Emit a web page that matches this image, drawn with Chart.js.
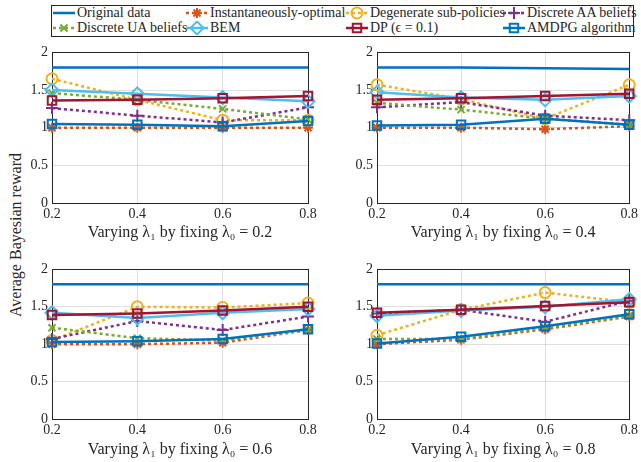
<!DOCTYPE html>
<html>
<head>
<meta charset="utf-8">
<script src="https://cdn.jsdelivr.net/npm/chart.js@4/dist/chart.umd.min.js"></script>
<style>
  body { margin: 0; width: 641px; height: 462px; background: #fff; position: relative; overflow: hidden;
         font-family: 'Liberation Serif', serif; color: #262626; }
  canvas.panel { position: absolute; }
  #legend { position: absolute; left: 51px; top: 5px; width: 583px; height: 32px;
            border: 1px solid #262626; box-sizing: border-box; background: #fff; }
  .item { position: absolute; height: 14px; display: flex; align-items: center; font-size: 14px; white-space: nowrap; }
  .item canvas { margin-right: 2px; }
  #ylabel { position: absolute; left: 16px; top: 235px; transform: translate(-50%, -50%) rotate(-90deg);
            font-size: 16px; white-space: nowrap; }
</style>
</head>
<body>
<div id="legend"></div>
<div id="ylabel">Average Bayesian reward</div>
<canvas class="panel" id="c0" width="320" height="210" style="left:0;top:40px"></canvas>
<canvas class="panel" id="c1" width="316" height="210" style="left:325px;top:40px"></canvas>
<canvas class="panel" id="c2" width="320" height="205" style="left:0;top:257px"></canvas>
<canvas class="panel" id="c3" width="316" height="205" style="left:325px;top:257px"></canvas>
<script>
// ── Data ─────────────────────────────────────────────────────────────

const LAMBDA1 = ['0.2', '0.4', '0.6', '0.8'];
const LAMBDA0 = ['0.2', '0.4', '0.6', '0.8'];
const Y_TICKS = [0, 0.5, 1, 1.5, 2];
const NAMES = ['Original data', 'Instantaneously-optimal', 'Degenerate sub-policies', 'Discrete AA beliefs',
               'Discrete UA beliefs', 'BEM', 'DP (\u03f5 = 0.1)', 'AMDPG algorithm'];

// one row per panel (λ0 = 0.2, 0.4, 0.6, 0.8), one value per λ1
const ORIGINAL = [
  [1.80, 1.80, 1.80, 1.80],
  [1.80, 1.80, 1.79, 1.78],
  [1.80, 1.80, 1.80, 1.80],
  [1.80, 1.80, 1.80, 1.80],
];
const INST_OPT = [
  [1.00, 1.00, 1.00, 1.00],
  [1.00, 1.00, 0.98, 1.02],
  [1.00, 1.00, 1.02, 1.19],
  [1.00, 1.06, 1.20, 1.37],
];
const DEGENERATE = [
  [1.65, 1.37, 1.10, 1.10],
  [1.57, 1.38, 1.12, 1.57],
  [1.05, 1.50, 1.49, 1.55],
  [1.12, 1.46, 1.69, 1.56],
];
const AA_BELIEFS = [
  [1.26, 1.16, 1.07, 1.27],
  [1.27, 1.34, 1.16, 1.10],
  [1.07, 1.31, 1.19, 1.37],
  [1.41, 1.46, 1.30, 1.58],
];
const UA_BELIEFS = [
  [1.46, 1.37, 1.25, 1.11],
  [1.33, 1.24, 1.12, 1.04],
  [1.22, 1.08, 1.05, 1.19],
  [1.07, 1.07, 1.22, 1.38],
];
const BEM = [
  [1.50, 1.45, 1.40, 1.35],
  [1.47, 1.40, 1.37, 1.42],
  [1.42, 1.35, 1.42, 1.47],
  [1.38, 1.45, 1.50, 1.60],
];
const DP = [
  [1.36, 1.37, 1.39, 1.42],
  [1.37, 1.39, 1.42, 1.45],
  [1.39, 1.41, 1.45, 1.50],
  [1.42, 1.46, 1.51, 1.56],
];
const AMDPG = [
  [1.05, 1.04, 1.02, 1.09],
  [1.03, 1.04, 1.12, 1.04],
  [1.03, 1.04, 1.07, 1.20],
  [1.01, 1.10, 1.24, 1.40],
];

const SERIES = [ORIGINAL, INST_OPT, DEGENERATE, AA_BELIEFS, UA_BELIEFS, BEM, DP, AMDPG];

// ── Styles ───────────────────────────────────────────────────────────

const DOT = [3, 3];
const STYLES = [
  { color: '#0072BD', dash: [],  style: false,      radius: 0   },
  { color: '#D95319', dash: DOT, style: 'star',     radius: 5   },
  { color: '#EDB120', dash: DOT, style: 'circle',   radius: 5.5 },
  { color: '#7E2F8E', dash: DOT, style: 'cross',    radius: 6   },
  { color: '#77AC30', dash: DOT, style: 'crossRot', radius: 5   },
  { color: '#4DBEEE', dash: [],  style: 'rectRot',  radius: 6.5 },
  { color: '#A2142F', dash: [],  style: 'rect',     radius: 6   },
  { color: '#0072BD', dash: [],  style: 'rect',     radius: 6   },
];

const AXIS_COLOR = '#262626';
const GRID_COLOR = 'rgba(38,38,38,0.15)';
const NONE = 'rgba(0,0,0,0)';
const FONT = "'Liberation Serif', serif";

// box round the plot area, under the data like MATLAB
const boxPlugin = {
  id: 'box',
  beforeDatasetsDraw(chart) {
    const a = chart.chartArea, ctx = chart.ctx;
    ctx.save();
    ctx.strokeStyle = AXIS_COLOR;
    ctx.lineWidth = 1;
    ctx.strokeRect(Math.round(a.left) + 0.5, Math.round(a.top) + 0.5,
                   Math.round(a.right - a.left), Math.round(a.bottom - a.top));
    ctx.restore();
  }
};

// ── Panels ───────────────────────────────────────────────────────────

function makePanel(p) {
  const top = p < 2;
  const canvas = document.getElementById('c' + p);
  new Chart(canvas, {
    type: 'line',
    data: {
      labels: LAMBDA1,
      datasets: SERIES.map((vals, i) => ({
        label: NAMES[i],
        data: vals[p],
        borderColor: STYLES[i].color,
        backgroundColor: NONE,
        borderWidth: 2.5,
        borderDash: STYLES[i].dash,
        pointStyle: STYLES[i].style,
        pointRadius: STYLES[i].radius,
        pointBorderWidth: 2,
        pointBorderColor: STYLES[i].color,
        pointBackgroundColor: NONE,
        tension: 0,
        clip: false,
        order: SERIES.length - i,
      }))
    },
    options: {
      responsive: false,
      animation: false,
      devicePixelRatio: 1,
      layout: { padding: { top: 12, right: p % 2 === 0 ? 12 : 8, left: 0, bottom: 0 } },
      plugins: { legend: { display: false }, tooltip: { enabled: false } },
      scales: {
        x: {
          offset: false,
          grid: { color: GRID_COLOR, drawTicks: false },
          border: { display: false },
          ticks: { padding: 3, color: AXIS_COLOR, maxRotation: 0, font: { family: FONT, size: 14 } },
          title: {
            display: true,
            text: 'Varying \u03bb\u2081 by fixing \u03bb\u2080 = ' + LAMBDA0[p],
            color: AXIS_COLOR,
            font: { family: FONT, size: 16 },
            padding: { top: 0, bottom: top ? 8 : 3 }
          },
          afterFit: s => { s.height = top ? 47 : 43; }
        },
        y: {
          min: 0, max: 2,
          afterBuildTicks: s => { s.ticks = Y_TICKS.map(v => ({ value: v })); },
          grid: { color: GRID_COLOR, drawTicks: false },
          border: { display: false },
          ticks: { padding: 4, color: AXIS_COLOR, font: { family: FONT, size: 14 },
                   callback: v => String(v) },
          afterFit: s => { s.width = 52; }
        }
      }
    },
    plugins: [boxPlugin]
  });
}

// ── Legend ───────────────────────────────────────────────────────────

function makeLegend() {
  const box = document.getElementById('legend');
  const colX = [53, 186, 346, 503];
  const rowY = [13, 28];
  NAMES.forEach((name, i) => {
    const item = document.createElement('div');
    item.className = 'item';
    item.style.left = (colX[i % 4] - 52) + 'px';
    item.style.top = (rowY[Math.floor(i / 4)] - 6 - 7) + 'px';

    const c = document.createElement('canvas');
    c.width = 22; c.height = 14;
    const ctx = c.getContext('2d');
    const st = STYLES[i];
    ctx.strokeStyle = st.color;
    ctx.fillStyle = NONE;
    ctx.lineWidth = 2.5;
    ctx.setLineDash(st.dash);
    ctx.beginPath(); ctx.moveTo(0, 7); ctx.lineTo(22, 7); ctx.stroke();
    ctx.setLineDash([]);
    if (st.style) {
      ctx.lineWidth = 2;
      Chart.helpers.drawPoint(ctx, { pointStyle: st.style, radius: st.radius, borderWidth: 2, rotation: 0 }, 11, 7);
    }

    const label = document.createElement('span');
    label.textContent = name;
    item.appendChild(c);
    item.appendChild(label);
    box.appendChild(item);
  });
}

makeLegend();
[0, 1, 2, 3].forEach(makePanel);
</script>
</body>
</html>
